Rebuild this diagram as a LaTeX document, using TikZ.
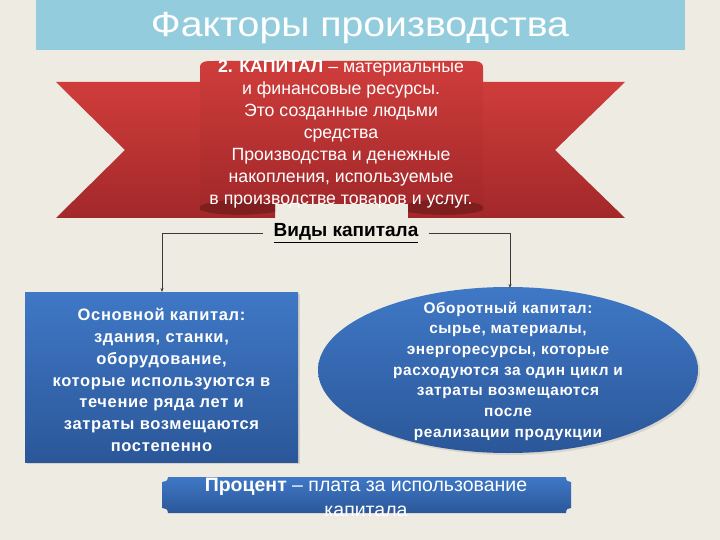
\documentclass[tikz,border=0pt]{standalone}
\usepackage{fontspec}
\usepackage{graphicx}
\setmainfont{Liberation Sans}
\newfontfamily\boxfont[LetterSpace=4]{Liberation Sans}
\usetikzlibrary{shapes.geometric,arrows.meta,shadows}
\definecolor{bgc}{HTML}{EEEBE2}
\definecolor{titlebar}{HTML}{93CDDD}
\definecolor{redtop}{HTML}{CF3D3B}
\definecolor{redbot}{HTML}{A3282A}
\definecolor{redfold}{HTML}{7E1E1E}
\definecolor{bluetop}{HTML}{3F78C6}
\definecolor{bluebot}{HTML}{2B5799}
\definecolor{linec}{HTML}{3A3A3A}
\tikzset{
  wtext/.style={text=white, align=center, inner sep=0pt},
  conn/.style={draw=linec, line width=0.7pt, -{Stealth[length=4pt,width=3pt]}},
  bluefill/.style={top color=bluetop, bottom color=bluebot},
  redfill/.style={top color=redtop, bottom color=redbot},
}
\begin{document}
\begin{tikzpicture}[x=1pt,y=-1pt]
\useasboundingbox (0,0) rectangle (720,540);
\fill[bgc] (0,0) rectangle (720,540);
% title bar
\fill[titlebar] (36,0) rectangle (685,50);
\node[wtext, font=\fontsize{35}{35}\selectfont] (title) at (360,28) {\scalebox{1.12}[1]{Факторы производства}};
% ribbon ends
\shade[redfill] (56,82) -- (275,82) -- (275,218) -- (56,218) -- (125,150) -- cycle;
\shade[redfill] (408,82) -- (625,82) -- (555,150) -- (625,218) -- (408,218) -- cycle;
% folds
\fill[redfold] (200,205) .. controls (200,196) and (275,196) .. (275,205) -- (275,212) .. controls (250,216) and (215,216) .. (200,210) -- cycle;
\fill[redfold] (408,205) .. controls (408,196) and (483,196) .. (483,205) -- (483,210) .. controls (470,216) and (430,216) .. (408,212) -- cycle;
% centre band
\shade[redfill] (200,206) -- (200,68) .. controls (200,61) and (205,61) .. (215,61) -- (468,61) .. controls (478,61) and (483,61) .. (483,68) -- (483,206) .. controls (470,198) and (420,198) .. (408,204) -- (275,204) .. controls (260,198) and (215,198) .. (200,206) -- cycle;
\node[wtext, font=\fontsize{17.7}{21.9}\selectfont] (capital) at (341,134) {\textbf{2. КАПИТАЛ} – материальные\\и финансовые ресурсы.\\Это созданные людьми\\средства\\Производства и денежные\\накопления, используемые\\в производстве товаров и услуг.};
% kinds
\node[font=\bfseries\fontsize{19}{19}\selectfont, inner xsep=10pt, inner ysep=3pt] (kinds) at (346,233) {\underline{Виды капитала}};
% left box
\node[bluefill, minimum width=273pt, minimum height=170pt, inner sep=0pt, drop shadow={opacity=0.25,shadow xshift=2pt,shadow yshift=-2pt}] (fixed) at (161.5,377) {};
\node[wtext, font=\boxfont\bfseries\fontsize{16.5}{21.7}\selectfont] (fixedtxt) at (161.5,380) {Основной капитал:\\здания, станки,\\оборудование,\\которые используются в\\течение ряда лет и\\затраты возмещаются\\постепенно};
% ellipse
\node[ellipse, bluefill, minimum width=380pt, minimum height=166pt, inner sep=0pt, drop shadow={opacity=0.2,shadow xshift=2pt,shadow yshift=-2pt}] (working) at (508,370) {};
\node[wtext, font=\boxfont\bfseries\fontsize{15.4}{20.7}\selectfont] (workingtxt) at (508,371) {Оборотный капитал:\\сырье, материалы,\\энергоресурсы, которые\\расходуются за один цикл и\\затраты возмещаются\\после\\реализации продукции};
% connectors
\coordinate (lcend) at (162,292);
\coordinate (rcend) at (510,288);
\draw[conn] (kinds.west) -| (lcend);
\draw[conn] (kinds.east) -| (rcend);
% bottom banner
\shade[bluefill] (168,477) -- (566,477) .. controls (566,481) and (568,482) .. (571,482) -- (571,508) .. controls (568,508) and (566,509) .. (566,513) -- (168,513) .. controls (168,509) and (165,508) .. (162,508) -- (162,482) .. controls (165,482) and (168,481) .. (168,477) -- cycle;
\node[wtext, font=\fontsize{19.5}{25}\selectfont] (percent) at (366,497) {\textbf{Процент} – плата за использование\\капитала};
\end{tikzpicture}
\end{document}
